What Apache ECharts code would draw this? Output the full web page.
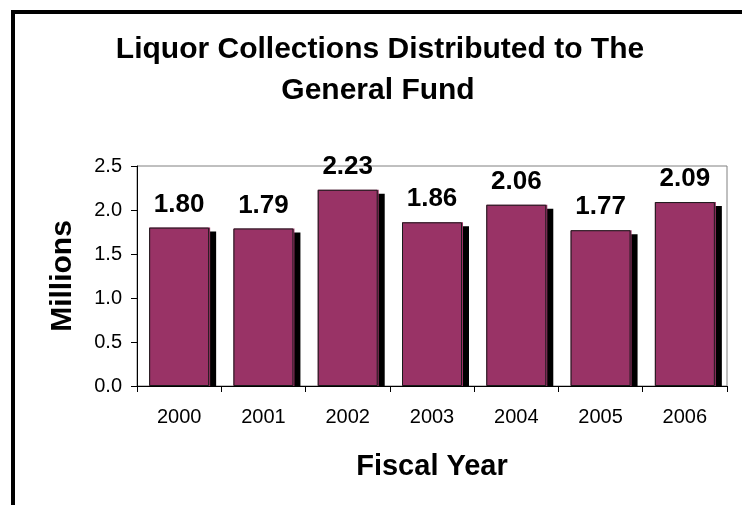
<!DOCTYPE html>
<html>
<head>
<meta charset="utf-8">
<script src="https://cdn.jsdelivr.net/npm/echarts@6/dist/echarts.min.js"></script>
<style>
  html, body { margin: 0; padding: 0; background: #fff; }
  #chart { width: 742px; height: 505px; }
</style>
</head>
<body>
<div id="chart"></div>
<script>
// Fiscal years and amounts distributed (millions of dollars)
const fiscalYears = ['2000', '2001', '2002', '2003', '2004', '2005', '2006'];
const collections = [1.80, 1.79, 2.23, 1.86, 2.06, 1.77, 2.09];
const titleLines = ['Liquor Collections Distributed to The', 'General Fund'];
const yAxisName = 'Millions';
const xAxisName = 'Fiscal Year';

const FONT = '"Liberation Sans", Arial, Helvetica, sans-serif';
const BAR_COLOR = '#993366';
const chart = echarts.init(document.getElementById('chart'), null, { renderer: 'canvas' });

chart.setOption({
  animation: false,
  backgroundColor: '#ffffff',
  grid: {
    left: 137, top: 166, right: 15, bottom: 119,
    show: true, borderColor: '#808080', borderWidth: 1, backgroundColor: '#ffffff'
  },
  graphic: [
    // outer frame
    { type: 'rect', z: 100, silent: true,
      shape: { x: 13, y: 12, width: 800, height: 600 },
      style: { fill: 'none', stroke: '#000', lineWidth: 4 } },
    // keep bar shadows from spilling under the axis
    { type: 'rect', z: 5, silent: true,
      shape: { x: 137, y: 387, width: 600, height: 8 },
      style: { fill: '#fff' } },
    { type: 'text', z: 100, x: 380, y: 50,
      style: { text: titleLines[0], font: 'bold 30px ' + FONT, fill: '#000',
               textAlign: 'center', textVerticalAlign: 'middle' } },
    { type: 'text', z: 100, x: 378, y: 91,
      style: { text: titleLines[1], font: 'bold 30px ' + FONT, fill: '#000',
               textAlign: 'center', textVerticalAlign: 'middle' } }
  ],
  xAxis: {
    type: 'category',
    data: fiscalYears,
    z: 10,
    name: xAxisName,
    nameLocation: 'middle',
    nameGap: 66,
    nameTextStyle: { fontFamily: FONT, fontSize: 29, fontWeight: 'bold', color: '#000' },
    axisLine: { lineStyle: { color: '#000', width: 1 } },
    axisTick: { show: true, length: 6, lineStyle: { color: '#000' } },
    axisLabel: { fontFamily: FONT, fontSize: 20, color: '#000', margin: 21 },
    splitLine: { show: false }
  },
  yAxis: {
    type: 'value',
    min: 0, max: 2.5, interval: 0.5,
    z: 10,
    name: yAxisName,
    nameLocation: 'middle',
    nameGap: 59,
    nameTextStyle: { fontFamily: FONT, fontSize: 30, fontWeight: 'bold', color: '#000' },
    axisLine: { show: true, lineStyle: { color: '#000', width: 1 } },
    axisTick: { show: true, length: 6, lineStyle: { color: '#000' } },
    axisLabel: { fontFamily: FONT, fontSize: 20, color: '#000', margin: 15,
                 formatter: v => v.toFixed(1) },
    splitLine: { show: false }
  },
  series: [
    // drop shadow layer
    {
      type: 'bar',
      data: collections,
      barWidth: 61,
      z: 2,
      silent: true,
      itemStyle: {
        color: BAR_COLOR,
        shadowColor: '#000',
        shadowBlur: 0,
        shadowOffsetX: 6,
        shadowOffsetY: 4
      }
    },
    // bars with outline and value labels
    {
      type: 'bar',
      data: collections,
      barWidth: 60,
      barGap: '-100%',
      z: 3,
      itemStyle: {
        color: BAR_COLOR,
        borderColor: '#1a1a1a',
        borderWidth: 1
      },
      label: {
        show: true,
        position: 'top',
        distance: 10,
        fontFamily: FONT,
        fontSize: 26,
        fontWeight: 'bold',
        color: '#000',
        formatter: p => p.value.toFixed(2)
      }
    }
  ]
});
</script>
</body>
</html>
